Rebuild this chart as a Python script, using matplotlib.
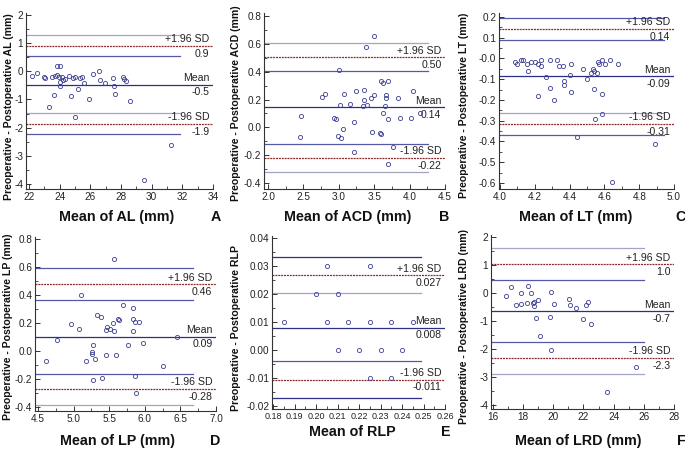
import numpy as np
import matplotlib
matplotlib.use("Agg")
import matplotlib.pyplot as plt
import matplotlib.font_manager as fm
from matplotlib.ticker import MultipleLocator, FormatStrFormatter

# fuente estrecha si existe (las etiquetas del original son tipo Arial Narrow)
nombres = {f.name for f in fm.fontManager.ttflist}
if "Liberation Sans Narrow" in nombres:
    fuente, escala = "Liberation Sans Narrow", 1.0
else:
    fuente, escala = "Liberation Sans", 0.82
plt.rcParams["font.family"] = [fuente, "DejaVu Sans"]
plt.rcParams["axes.unicode_minus"] = False

# ---- datos ----
# A: AL
al_x = [22.2, 22.55, 23.0, 23.07, 23.3, 23.5, 23.64, 23.68, 23.83, 24.0, 23.83, 23.96, 24.05, 24.0,
        24.18, 24.23, 24.36, 24.62, 24.75, 24.88, 24.99, 24.99, 25.2, 25.32, 25.45, 25.58, 25.9, 26.17,
        26.58, 26.65, 26.97, 27.45, 27.56, 27.59, 28.15, 28.22, 28.33, 28.57, 29.5, 31.25]
al_y = [-0.17, -0.05, -0.21, -0.25, -1.28, -0.21, -0.84, -0.17, 0.18, 0.18, -0.13, -0.21, -0.37, -0.52,
        -0.20, -0.31, -0.26, -0.17, -0.89, -0.25, -0.21, -1.63, -0.62, -0.24, -0.19, -0.43, -0.99, -0.09,
        0.01, -0.31, -0.40, -0.25, -0.54, -0.82, -0.20, -0.28, -0.33, -1.04, -3.85, -2.6]
al_lineas = [1.28, 0.90, 0.53, -0.47, -1.49, -1.87, -2.24]
al_textos = ["+1.96 SD", "0.9", "Mean", "-0.5", "-1.96 SD", "-1.9"]

# B: ACD
acd_x = [2.446, 2.46, 2.76, 2.81, 2.93, 2.96, 2.99, 3.0, 3.015, 3.03, 3.06, 3.08, 3.16, 3.21, 3.22,
         3.25, 3.34, 3.35, 3.36, 3.38, 3.40, 3.45, 3.47, 3.50, 3.50, 3.58, 3.60, 3.60, 3.62, 3.62,
         3.65, 3.66, 3.66, 3.69, 3.69, 3.70, 3.77, 3.83, 3.86, 4.02, 4.05, 4.14]
acd_y = [-0.07, 0.08, 0.22, 0.24, 0.07, 0.06, -0.06, 0.41, 0.16, -0.08, -0.01, 0.24, 0.17, -0.18, 0.04,
         0.26, 0.15, 0.20, 0.27, 0.58, 0.16, 0.21, -0.03, 0.23, 0.66, -0.04, -0.05, 0.33, 0.32, 0.10,
         0.15, 0.23, 0.21, 0.33, -0.26, 0.06, -0.14, 0.21, 0.07, 0.07, 0.26, 0.10]
acd_lineas = [0.604, 0.504, 0.404, 0.143, -0.123, -0.22, -0.319]
acd_textos = ["+1.96 SD", "0.50", "Mean", "0.14", "-1.96 SD", "-0.22"]

# C: LT
lt_x = [4.088, 4.10, 4.12, 4.134, 4.153, 4.16, 4.176, 4.20, 4.22, 4.22, 4.233, 4.237, 4.264, 4.285,
        4.29, 4.31, 4.325, 4.34, 4.36, 4.365, 4.37, 4.40, 4.41, 4.41, 4.44, 4.476, 4.50, 4.525, 4.535,
        4.54, 4.54, 4.546, 4.556, 4.564, 4.57, 4.585, 4.587, 4.587, 4.604, 4.63, 4.646, 4.679, 4.889]
lt_y = [-0.018, -0.028, -0.009, -0.009, -0.028, -0.06, -0.018, -0.018, -0.028, -0.18, -0.009, -0.038,
        -0.09, -0.009, -0.14, -0.20, -0.009, -0.038, -0.038, -0.108, -0.13, -0.08, -0.028, -0.16, -0.38,
        -0.049, -0.10, -0.068, -0.049, -0.149, -0.06, -0.29, -0.068, -0.018, -0.028, -0.009, -0.17,
        -0.27, -0.028, -0.009, -0.595, -0.028, -0.412]
lt_lineas = [0.197, 0.142, 0.088, -0.086, -0.261, -0.316, -0.370]
lt_textos = ["+1.96 SD", "0.14", "Mean", "-0.09", "-1.96 SD", "-0.31"]

# D: LP
lp_x = [4.615, 4.77, 4.97, 5.08, 5.10, 5.17, 5.26, 5.26, 5.27, 5.27, 5.30, 5.33, 5.38, 5.40, 5.45,
        5.46, 5.475, 5.51, 5.56, 5.57, 5.57, 5.60, 5.62, 5.64, 5.70, 5.77, 5.83, 5.83, 5.84, 5.86,
        5.86, 5.88, 5.92, 5.98, 6.25, 6.45]
lp_y = [-0.07, 0.08, 0.19, 0.16, 0.40, -0.07, -0.01, -0.02, 0.04, -0.21, -0.06, 0.26, 0.24, -0.19,
        -0.03, 0.15, 0.17, 0.16, 0.20, 0.14, 0.66, -0.03, 0.23, 0.22, 0.33, 0.04, 0.14, 0.23, 0.31,
        0.21, -0.18, -0.30, 0.21, 0.06, -0.11, 0.10]
lp_lineas = [0.592, 0.475, 0.363, 0.103, -0.164, -0.272, -0.389]
lp_textos = ["+1.96 SD", "0.46", "Mean", "0.09", "-1.96 SD", "-0.28"]

# E: RLP
rlp_x = [0.185, 0.200, 0.205, 0.205, 0.210, 0.210, 0.215, 0.220, 0.225, 0.225, 0.225, 0.230,
         0.235, 0.235, 0.240, 0.245]
rlp_y = [0.010, 0.020, 0.030, 0.010, 0.020, 0.000, 0.010, 0.000, 0.030, 0.010, -0.010, 0.000,
         0.010, -0.010, 0.000, 0.010]
rlp_lineas = [0.0331, 0.0266, 0.0203, 0.0080, -0.0041, -0.0106, -0.0170]
rlp_textos = ["+1.96 SD", "0.027", "Mean", "0.008", "-1.96 SD", "-0.011"]

# F: LRD
lrd_x = [16.84, 17.19, 17.55, 17.86, 17.86, 18.28, 18.34, 18.54, 18.63, 18.70, 18.74, 18.83, 18.96,
         19.12, 19.80, 19.82, 19.85, 20.04, 21.02, 21.13, 21.52, 21.94, 22.14, 22.28, 22.52, 23.58, 25.46]
lrd_y = [-0.09, 0.20, -0.44, -0.01, -0.39, -0.35, 0.26, 0.0, -0.35, -0.47, -0.33, -0.90, -0.25,
         -1.54, -0.87, 0.03, -2.04, -0.39, -0.22, -0.43, -0.53, -0.93, -0.43, -0.32, -1.10, -3.53, -2.64]
lrd_lineas = [1.59, 1.02, 0.45, -0.65, -1.75, -2.31, -2.89]
lrd_textos = ["+1.96 SD", "1.0", "Mean", "-0.7", "-1.96 SD", "-2.3"]

# ---- colores ----
azul_osc = "#2b2f86"
azul = "#5558a8"
gris = "#a3a5c4"
rojo = "#8b2a2a"
marca = "#3c4090"

# cajas de ejes en pixeles (izq, der, arriba, abajo), limites y ticks
paneles = [
    dict(x=al_x, y=al_y, lin=al_lineas, txt=al_textos, caja=(26, 213, 13, 189),
         xl=(21.8, 34), yl=(-4.18, 2.07), xt=(22, 34, 2, 1), yt=(-4, 2, 1, 0.5), fx="%d", fy="%d",
         ci=[gris, azul, gris, azul], fin=31.86, tam=8.8,
         xlab="Mean of AL (mm)", xlp=(117, 217), letra="A", lp=(216, 217),
         ylab="Preoperative - Postoperative AL (mm)", ylp=(9, 107)),
    dict(x=acd_x, y=acd_y, lin=acd_lineas, txt=acd_textos, caja=(264, 445, 13, 189),
         xl=(1.944, 4.5), yl=(-0.443, 0.822), xt=(2.0, 4.5, 0.5, 0.25), yt=(-0.4, 0.8, 0.2, 0.1),
         fx="%.1f", fy="%.1f", ci=[gris, azul, azul, gris], fin=4.256, tam=8.8,
         xlab="Mean of ACD (mm)", xlp=(348, 217), letra="B", lp=(444, 217),
         ylab="Preoperative - Postoperative ACD (mm)", ylp=(236, 103)),
    dict(x=lt_x, y=lt_y, lin=lt_lineas, txt=lt_textos, caja=(499, 674, 13, 189),
         xl=(3.994, 5.0), yl=(-0.629, 0.219), xt=(4.0, 5.0, 0.2, 0.1), yt=(-0.6, 0.2, 0.1, 0.05),
         fx="%.1f", fy="%.1f", ci=[azul, azul, gris, azul], fin=4.943, tam=8.8,
         xlab="Mean of LT (mm)", xlp=(576, 217), letra="C", lp=(680, 217),
         ylab="Preoperative - Postoperative LT (mm)", ylp=(464, 105)),
    dict(x=lp_x, y=lp_y, lin=lp_lineas, txt=lp_textos, caja=(35, 216, 237, 411),
         xl=(4.458, 7.0), yl=(-0.429, 0.814), xt=(4.5, 7.0, 0.5, 0.25), yt=(-0.4, 0.8, 0.2, 0.1),
         fx="%.1f", fy="%.1f", ci=[azul, azul, azul, gris], fin=6.68, tam=8.8,
         xlab="Mean of LP (mm)", xlp=(117, 441), letra="D", lp=(215, 441),
         ylab="Preoperative - Postoperative LP (mm)", ylp=(8, 327)),
    dict(x=rlp_x, y=rlp_y, lin=rlp_lineas, txt=rlp_textos, caja=(272, 445, 236, 409),
         xl=(0.17953, 0.26), yl=(-0.0211, 0.0407), xt=(0.18, 0.26, 0.01, 0.005),
         yt=(-0.02, 0.04, 0.01, 0.005), fx="%.2f", fy="%.2f", ci=[azul_osc, gris, azul, azul_osc],
         fin=0.2487, tam=7.9, xlab="Mean of RLP", xlp=(352, 432), letra="E", lp=(446, 432),
         ylab="Preoperative - Postoperative RLP", ylp=(236, 328)),
    dict(x=lrd_x, y=lrd_y, lin=lrd_lineas, txt=lrd_textos, caja=(491, 674, 235, 409),
         xl=(15.87, 28), yl=(-4.14, 2.07), xt=(16, 28, 2, 1), yt=(-4, 2, 1, 0.5), fx="%d", fy="%d",
         ci=[gris, azul, azul, gris], fin=26.04, tam=8.8,
         xlab="Mean of LRD (mm)", xlp=(578, 441), letra="F", lp=(681, 441),
         ylab="Preoperative - Postoperative LRD (mm)", ylp=(464, 326)),
]

W, H = 685, 449
fig = plt.figure(figsize=(W / 100, H / 100), dpi=100)

for p in paneles:
    izq, der, arr, aba = p["caja"]
    ax = fig.add_axes([izq / W, 1 - aba / H, (der - izq) / W, (aba - arr) / H])
    ax.set_xlim(*p["xl"])
    ax.set_ylim(*p["yl"])
    for lado in ["top", "right"]:
        ax.spines[lado].set_visible(False)
    for lado in ["left", "bottom"]:
        ax.spines[lado].set_linewidth(0.8)
        ax.spines[lado].set_color("#333333")

    x0, x1, paso, menor = p["xt"]
    ax.set_xticks(np.arange(x0, x1 + paso / 2, paso))
    ax.xaxis.set_minor_locator(MultipleLocator(menor))
    ax.xaxis.set_major_formatter(FormatStrFormatter(p["fx"]))
    y0, y1, paso, menor = p["yt"]
    ax.set_yticks(np.arange(y0, y1 + paso / 2, paso))
    ax.yaxis.set_minor_locator(MultipleLocator(menor))
    ax.yaxis.set_major_formatter(FormatStrFormatter(p["fy"]))
    ax.tick_params(which="major", direction="in", length=3.5, width=0.7, labelsize=8.8 * escala,
                   pad=2, colors="#333333", labelcolor="#222222")
    ax.tick_params(axis="x", labelsize=p["tam"] * escala)
    ax.tick_params(which="minor", direction="in", length=2, width=0.6, colors="#333333")

    # lineas de Bland-Altman
    lin = p["lin"]
    xmin = p["xl"][0]
    for valor, col in zip([lin[0], lin[2], lin[4], lin[6]], p["ci"]):
        ax.plot([xmin, p["fin"]], [valor, valor], color=col, lw=0.9, zorder=1)
    for valor in [lin[1], lin[5]]:
        ax.axhline(valor, color=rojo, lw=0.9, ls=(0, (1.6, 0.7)), zorder=1)
    ax.axhline(lin[3], color=azul_osc, lw=0.9, zorder=1)

    # textos a la derecha
    xr = p["xl"][1] - (p["xl"][1] - p["xl"][0]) * 0.02
    for valor, t_arr, t_aba in zip([lin[1], lin[3], lin[5]], p["txt"][0::2], p["txt"][1::2]):
        ax.annotate(t_arr, (xr, valor), xytext=(0, 1.2), textcoords="offset points",
                    ha="right", va="bottom", fontsize=9.2 * escala, color="#222222")
        ax.annotate(t_aba, (xr, valor), xytext=(0, -2), textcoords="offset points",
                    ha="right", va="top", fontsize=9.2 * escala, color="#222222")

    ax.plot(p["x"], p["y"], "o", ms=3.0, mfc="none", mec=marca, mew=0.6, zorder=3, clip_on=False)

    fig.text(p["xlp"][0] / W, 1 - p["xlp"][1] / H, p["xlab"], ha="center", va="center",
             fontsize=12.5 * escala, fontweight="bold", color="#111111")
    fig.text(p["lp"][0] / W, 1 - p["lp"][1] / H, p["letra"], ha="center", va="center",
             fontsize=12.5 * escala, fontweight="bold", color="#111111")
    fig.text(p["ylp"][0] / W, 1 - p["ylp"][1] / H, p["ylab"], ha="center", va="center",
             rotation=90, fontsize=9.2 * escala, fontweight="bold", color="#111111")

fig.savefig("out.png", dpi=100)
